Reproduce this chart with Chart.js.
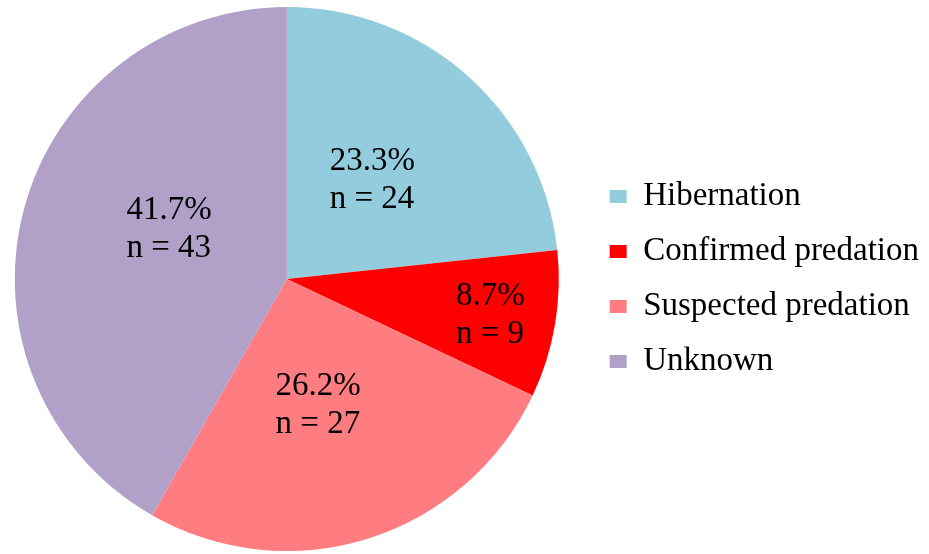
<!DOCTYPE html>
<html>
<head>
<meta charset="utf-8">
<script src="https://cdn.jsdelivr.net/npm/chart.js@4.4.1/dist/chart.umd.min.js"></script>
<style>
  html, body { margin: 0; padding: 0; background: #ffffff; }
  #wrap { width: 929px; height: 554px; position: relative; }
</style>
</head>
<body>
<div id="wrap"><canvas id="c" width="929" height="554"></canvas></div>
<script>
const categories = ["Hibernation", "Confirmed predation", "Suspected predation", "Unknown"];
const counts = [24, 9, 27, 43];
const percents = ["23.3%", "8.7%", "26.2%", "41.7%"];
const colors = ["#93CDDD", "#FF0000", "#FF7C80", "#B1A0C7"];
const labelRadius = [0.48, 0.76, 0.48, 0.47];
const labelAngleShift = [-1, 0.5, 3.6, 8];

const sliceLabels = {
  id: 'sliceLabels',
  afterDatasetsDraw(chart) {
    const ctx = chart.ctx;
    const meta = chart.getDatasetMeta(0);
    ctx.save();
    ctx.fillStyle = '#000000';
    ctx.font = '33px "Liberation Serif", "Times New Roman", serif';
    ctx.textAlign = 'left';
    ctx.textBaseline = 'middle';
    meta.data.forEach((arc, i) => {
      const p = arc.getProps(['x', 'y', 'startAngle', 'endAngle', 'outerRadius']);
      const mid = (p.startAngle + p.endAngle) / 2 + labelAngleShift[i] * Math.PI / 180;
      const r = p.outerRadius * labelRadius[i];
      const cx = p.x + Math.cos(mid) * r;
      const cy = p.y + Math.sin(mid) * r;
      const l1 = percents[i];
      const l2 = 'n = ' + counts[i];
      const w = Math.max(ctx.measureText(l1).width, ctx.measureText(l2).width);
      const x0 = cx - w / 2;
      ctx.fillText(l1, x0, cy - 19);
      ctx.fillText(l2, x0, cy + 19);
    });
    ctx.restore();
  }
};

// shift the pie's area left so it sits where the original does
const shiftArea = {
  id: 'shiftArea',
  afterLayout(chart) {
    chart.chartArea.left -= 7;
    chart.chartArea.right -= 7;
  }
};

new Chart(document.getElementById('c'), {
  type: 'pie',
  data: {
    labels: categories,
    datasets: [{
      data: counts,
      backgroundColor: colors,
      borderWidth: 0
    }]
  },
  options: {
    responsive: false,
    animation: false,
    layout: { padding: { left: 0, top: 7, bottom: 3, right: 0 } },
    plugins: {
      tooltip: { enabled: false },
      legend: {
        position: 'right',
        labels: {
          color: '#000000',
          font: { family: '"Liberation Serif", "Times New Roman", serif', size: 33 },
          boxWidth: 17,
          boxHeight: 13,
          padding: 22
        }
      }
    }
  },
  plugins: [shiftArea, sliceLabels]
});
</script>
</body>
</html>
